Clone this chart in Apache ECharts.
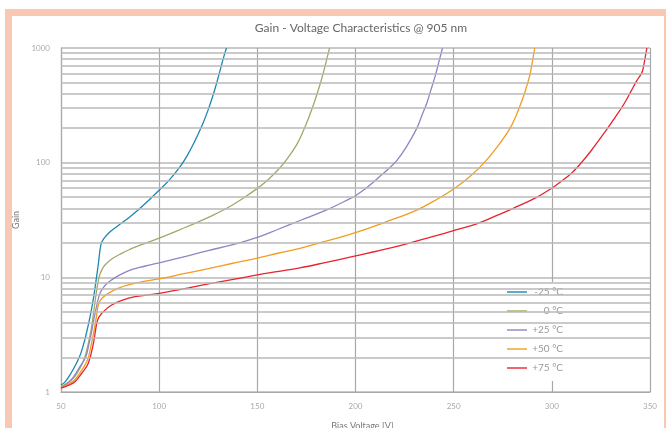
<!DOCTYPE html>
<html>
<head>
<meta charset="utf-8">
<script src="https://cdn.jsdelivr.net/npm/echarts@6/dist/echarts.min.js"></script>
<style>
html,body{margin:0;padding:0;background:#fff;width:666px;height:428px;overflow:hidden;}
#frame{position:absolute;left:5px;top:9px;width:680px;height:440px;background:#f9c8b3;}
#inner{position:absolute;left:12px;top:16px;width:652px;height:430px;background:#fff;}
#chart{position:absolute;left:0;top:0;width:666px;height:428px;}
</style>
</head>
<body>
<div id="frame"></div>
<div id="inner"></div>
<div id="chart"></div>
<script>
const seriesNames = ['-25 °C', '0 °C', '+25 °C', '+50 °C', '+75 °C'];
const seriesColors = ['#1b87b3', '#a3a867', '#8f85c4', '#f39c1e', '#e8232e'];
const xTicks = [50, 100, 150, 200, 250, 300, 350];
const yMinorGrid = [2,3,4,5,6,7,8,9,20,30,40,50,60,70,80,90,200,300,400,500,600,700,800,900];

const gainM25 = [[50,1.15],[52,1.22],[55,1.45],[58,1.8],[60,2.15],[62,2.8],[64,3.9],[66,5.8],[67.5,8.5],[69,13],[70.4,19.5],[72,22],[75,25],[80,29],[85,33.6],[90,39.6],[95,47.5],[100,57.5],[105,70],[110,89],[114,113],[118,152],[122,214],[125,290],[128,415],[131,635],[133,850],[134.3,1000]];
const gain0 = [[50,1.11],[54,1.22],[57,1.36],[60,1.65],[62.2,2.03],[64,2.7],[65.6,3.7],[67.7,6.8],[69.4,10.1],[71,11.8],[72.4,12.8],[76,14.5],[80.9,16.2],[85,17.5],[89.4,18.8],[95.3,20.5],[100,22],[106,24.2],[112.3,26.8],[120,30.5],[127,34.5],[134.4,40],[142,48],[150,59.7],[155,70],[160,84.5],[165,107],[170,143],[173,182],[176,243],[179,335],[182,485],[184,645],[186,885],[186.8,1000]];
const gainP25 = [[50,1.09],[53,1.18],[56,1.33],[59,1.6],[62.5,2.0],[64,2.5],[65.5,3.3],[67.5,5],[69.5,7.0],[70.7,7.75],[73,8.7],[75.8,9.5],[80,10.5],[84.3,11.4],[90,12.2],[95,12.8],[100,13.4],[112,15.0],[125,17.1],[137,19.2],[150,22.3],[160,26],[171.7,31.3],[185,38.5],[197.2,48.5],[200,51.5],[206,61],[212.5,76],[217,89],[221,104],[226,138],[231.2,199],[234,263],[236.3,330],[238.5,436],[240.5,562],[242.5,760],[244.3,1000]];
const gainP50 = [[50,1.1],[54,1.18],[57,1.28],[60,1.5],[63.5,1.9],[65,2.4],[66.5,3.2],[68,4.5],[69.2,5.9],[71,6.6],[74.1,7.25],[79,8.0],[84.3,8.6],[92,9.2],[100,9.7],[112,10.7],[125,11.9],[137,13.2],[150,14.7],[161,16.3],[171.7,17.9],[185,20.7],[197.2,23.7],[200,24.5],[215,30.2],[231.2,38.6],[242,48.5],[250,59],[258,75],[265.1,98],[272,136],[278.7,199],[282,262],[285.5,376],[287.3,470],[288.9,590],[290.2,780],[291.3,1000]];
const gainP75 = [[50,1.08],[54,1.15],[57.1,1.23],[60.5,1.45],[63.9,1.78],[66.5,2.66],[68.2,3.97],[69.3,4.5],[72,5.1],[75.8,5.74],[81,6.3],[87.7,6.78],[100,7.26],[115,8.1],[125,8.75],[137.8,9.6],[150,10.5],[160,11.2],[171.7,12.1],[185,13.5],[197.2,15],[210,16.8],[222.7,18.9],[235,21.6],[250,25.5],[263.4,30],[272,34.7],[280.4,40],[292,49.5],[300.4,60.5],[304.2,67.5],[310,81],[314.4,97],[320,127],[328,195],[332,245],[336.5,320],[340,410],[343.3,520],[345.9,610],[346.7,690],[348.4,1000]];

const allGains = [gainM25, gain0, gainP25, gainP50, gainP75];

const chart = echarts.init(document.getElementById('chart'), null, {renderer: 'canvas'});
const gridStyle = {color: '#b8b8b8', width: 1.5};
const labelFont = 'Lato, "Open Sans", sans-serif';

const series = [{
  type: 'line', name: '_grid', data: [], z: 1, silent: true,
  markLine: {
    silent: true, symbol: ['none', 'none'], animation: false,
    label: {show: false},
    lineStyle: {color: '#b8b8b8', width: 1.5, type: 'solid'},
    emphasis: {disabled: true},
    data: yMinorGrid.map(v => ({yAxis: v}))
  }
}].concat(allGains.map((d, i) => ({
  type: 'line', name: seriesNames[i], data: d, showSymbol: false, symbol: 'none',
  smooth: 0.4, z: 3,
  lineStyle: {color: seriesColors[i], width: 1.3},
  itemStyle: {color: seriesColors[i]}
})));

chart.setOption({
  animation: false,
  backgroundColor: 'transparent',
  title: {
    text: 'Gain - Voltage Characteristics @ 905 nm',
    left: 356, top: 17, textAlign: 'center',
    textStyle: {fontFamily: labelFont, fontSize: 12, fontWeight: 'normal', color: '#666'}
  },
  grid: {left: 61, width: 589, top: 48, height: 344, containLabel: false, outerBoundsMode: 'none'},
  legend: {
    data: seriesNames,
    orient: 'vertical',
    left: 488, top: 282,
    backgroundColor: '#fff',
    padding: [5, 16, 8, 19],
    icon: 'rect',
    itemWidth: 20, itemHeight: 1.4, itemGap: 9,
    formatter: name => '{a|' + name + '}',
    textStyle: {
      rich: {a: {width: 31, align: 'right', fontFamily: labelFont, fontSize: 10, color: '#999'}}
    }
  },
  xAxis: {
    type: 'value', min: 50, max: 350, interval: 50,
    name: 'Bias Voltage [V]', nameLocation: 'middle', nameGap: 30,
    nameTextStyle: {fontFamily: labelFont, fontSize: 9, color: '#777', padding: [0, 0, 0, 14]},
    axisLine: {show: true, lineStyle: {color: '#aaa', width: 1.2}},
    axisTick: {show: false},
    axisLabel: {fontFamily: labelFont, fontSize: 8, color: '#aaa', margin: 10,
      formatter: v => xTicks.includes(v) ? String(v) : ''},
    splitLine: {show: true, lineStyle: {color: '#a8a8a8', width: 1.2}}
  },
  yAxis: {
    type: 'log', logBase: 10, min: 1, max: 1000,
    name: 'Gain', nameLocation: 'middle', nameGap: 40,
    nameTextStyle: {fontFamily: labelFont, fontSize: 9, color: '#777'},
    axisLine: {show: true, lineStyle: {color: '#aaa', width: 1.2}},
    axisTick: {show: false},
    axisLabel: {fontFamily: labelFont, fontSize: 8, color: '#aaa', margin: 11,
      formatter: v => String(Math.round(v))},
    splitLine: {show: true, lineStyle: gridStyle}
  },
  series: series
});
</script>
</body>
</html>
